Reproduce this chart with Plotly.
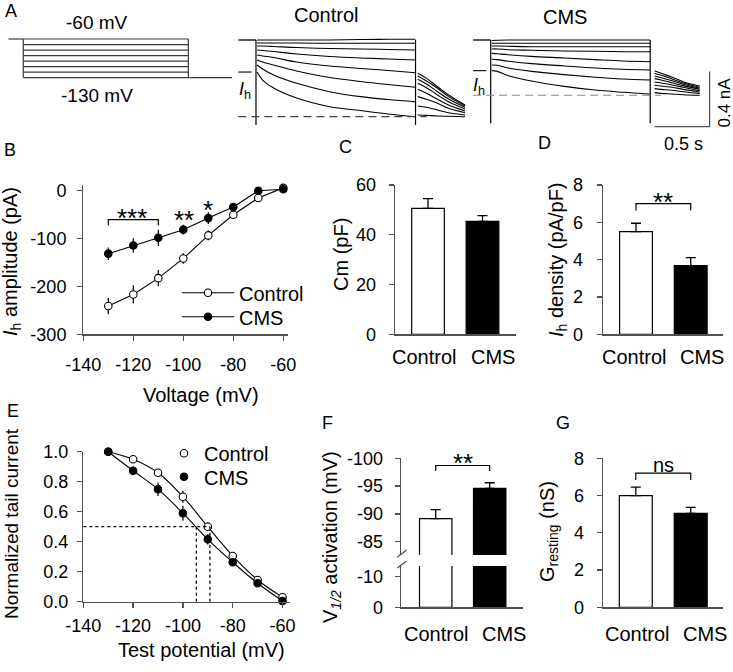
import plotly.graph_objects as go

W, H = 733, 672
FONT = "Arial, Liberation Sans, Helvetica, sans-serif"
AX = "#505050"


def px(x):
    return x / W


def py(y):
    return 1 - y / H


# ------------------------------------------------------------------ DATA
# Panel A - voltage protocol (mV) and times (s)
step_mv = [-60, -70, -80, -90, -100, -110, -120, -130]
hold_mv = -60
tail_mv = -130
prot_t = [-0.13, 0.0, 1.45, 1.85]

# Panel A - current traces (nA), one list per voltage step (-60 ... -130)
t_hold_start = -0.16
t_step = [0.01, 0.06, 0.16, 0.37, 0.67, 0.95, 1.2, 1.45]
ctrl_step = [
    [0.0, 0.0, 0.0, 0.0, 0.0, 0.004, 0.005, 0.005],
    [-0.022, -0.022, -0.022, -0.022, -0.024, -0.024, -0.024, -0.024],
    [-0.044, -0.044, -0.047, -0.055, -0.062, -0.065, -0.069, -0.073],
    [-0.073, -0.076, -0.084, -0.102, -0.120, -0.131, -0.138, -0.145],
    [-0.109, -0.116, -0.127, -0.160, -0.189, -0.207, -0.222, -0.238],
    [-0.145, -0.160, -0.182, -0.225, -0.273, -0.302, -0.324, -0.344],
    [-0.182, -0.211, -0.255, -0.315, -0.376, -0.412, -0.433, -0.449],
    [-0.233, -0.291, -0.349, -0.422, -0.485, -0.513, -0.538, -0.558],
]
t_tail_ctrl = [1.47, 1.55, 1.65, 1.75, 1.9]
ctrl_tail = [
    [-0.242, -0.279, -0.340, -0.400, -0.473],
    [-0.262, -0.298, -0.351, -0.412, -0.480],
    [-0.286, -0.320, -0.376, -0.429, -0.489],
    [-0.315, -0.347, -0.400, -0.449, -0.502],
    [-0.359, -0.388, -0.431, -0.473, -0.516],
    [-0.412, -0.431, -0.460, -0.497, -0.529],
    [-0.480, -0.489, -0.509, -0.529, -0.545],
    [-0.545, -0.548, -0.553, -0.555, -0.558],
]
ctrl_transient = -0.618

cms_step = [
    [-0.004, -0.002, 0.0, 0.0, 0.0, 0.0, 0.0, 0.0],
    [-0.024, -0.024, -0.024, -0.024, -0.024, -0.024, -0.024, -0.024],
    [-0.044, -0.044, -0.046, -0.049, -0.049, -0.049, -0.049, -0.049],
    [-0.065, -0.065, -0.071, -0.075, -0.080, -0.082, -0.085, -0.085],
    [-0.097, -0.100, -0.107, -0.119, -0.131, -0.143, -0.153, -0.158],
    [-0.140, -0.143, -0.155, -0.172, -0.189, -0.204, -0.213, -0.218],
    [-0.182, -0.184, -0.204, -0.228, -0.252, -0.271, -0.284, -0.291],
    [-0.223, -0.228, -0.260, -0.298, -0.337, -0.364, -0.380, -0.393],
]
t_tail_cms = [1.49, 1.55, 1.65, 1.75, 1.9]
cms_tail = [
    [-0.223, -0.242, -0.271, -0.303, -0.335],
    [-0.242, -0.257, -0.284, -0.313, -0.344],
    [-0.262, -0.274, -0.296, -0.322, -0.351],
    [-0.281, -0.291, -0.311, -0.332, -0.359],
    [-0.305, -0.313, -0.327, -0.344, -0.369],
    [-0.329, -0.335, -0.344, -0.359, -0.378],
    [-0.354, -0.359, -0.366, -0.376, -0.388],
    [-0.383, -0.388, -0.393, -0.398, -0.402],
]
cms_transient = -0.606
scale_t = 0.5    # s
scale_i = 0.4    # nA

# Panel B - Ih amplitude (pA)
b_v = [-130, -120, -110, -100, -90, -80, -70, -60]
b_ctrl = [-241, -217, -183, -142, -94, -51, -16, 5]
b_ctrl_err = [17, 19, 17, 11, 10, 5, 4, 3]
b_cms = [-132, -115, -99, -82, -58, -35, -1, 2]
b_cms_err = [13, 15, 17, 10, 12, 5, 4, 3]
b_ticks_x = [-140, -120, -100, -80, -60]
b_ticks_y = [-300, -200, -100, 0]

groups = ["Control", "CMS"]
# Panel C - Cm (pF)
cm_mean = [50.6, 45.4]
cm_err = [3.9, 2.3]
# Panel D - Ih density (pA/pF)
dens_mean = [5.5, 3.68]
dens_err = [0.45, 0.43]

# Panel E - normalized tail current
e_v = [-130, -120, -110, -100, -90, -80, -70, -60]
e_ctrl = [1.0, 0.95, 0.86, 0.70, 0.50, 0.305, 0.145, 0.03]
e_ctrl_err = [0.0, 0.015, 0.02, 0.04, 0.03, 0.02, 0.025, 0.01]
e_cms = [1.0, 0.873, 0.75, 0.59, 0.416, 0.263, 0.123, 0.005]
e_cms_err = [0.0, 0.03, 0.045, 0.05, 0.035, 0.02, 0.02, 0.01]
e_ticks_y = [0.0, 0.2, 0.4, 0.6, 0.8, 1.0]

# Panel F - V1/2 activation (mV)
vhalf_mean = [-89.15, -94.6]
vhalf_err = [1.6, 1.0]
f_ticks_upper = [-100, -95, -90, -85]
f_ticks_lower = [-10, 0]

# Panel G - G resting (nS)
g_mean = [6.0, 5.04]
g_err = [0.45, 0.33]
bar_ticks_8 = [0, 2, 4, 6, 8]

# ------------------------------------------------------------------ FIGURE
fig = go.Figure()
BLACK = "black"


def line(x, y, xa, ya, color=BLACK, width=1.1, dash=None, shape="linear"):
    fig.add_trace(go.Scatter(
        x=x, y=y, mode="lines", xaxis=xa, yaxis=ya, showlegend=False,
        hoverinfo="skip", cliponaxis=False,
        line=dict(color=color, width=width, dash=dash, shape=shape)))


# ---- Panel A: protocol
PC = "#3a3a3a"
line([prot_t[0], prot_t[1]], [hold_mv, hold_mv], "x", "y", PC, 1.2)
for v in step_mv:
    line([prot_t[1], prot_t[2]], [v, v], "x", "y", PC, 1.2)
for tt in (prot_t[1], prot_t[2]):
    line([tt, tt], [max(step_mv), min(step_mv)], "x", "y", PC, 1.2)
line([prot_t[2], prot_t[3]], [tail_mv, tail_mv], "x", "y", PC, 1.2)


def family(xa, ya, steps, tails, t_tail, transient, dash_color):
    line([t_hold_start, 0], [0, 0], xa, ya, BLACK, 1.3)
    line([0, 0], [0, transient], xa, ya, BLACK, 1.2)
    line([t_step[-1], t_step[-1]], [0, transient], xa, ya, BLACK, 1.2)
    for s in steps:
        line(t_step, s, xa, ya, BLACK, 1.1, shape="spline")
    for tl in tails:
        line(t_tail, tl, xa, ya, BLACK, 1.1, shape="spline")
    low = min(steps[-1] + tails[-1])
    line([t_hold_start, t_tail[1]], [low, low], xa, ya, dash_color, 1.2,
         dash="8px,5px")
    line([t_hold_start, -0.04], [steps[-1][0], steps[-1][0]], xa, ya,
         BLACK, 1.1)


family("x2", "y2", ctrl_step, ctrl_tail, t_tail_ctrl, ctrl_transient, "#444")
family("x3", "y3", cms_step, cms_tail, t_tail_cms, cms_transient, "#888")
# scale bar (CMS axes)
sb_t0, sb_i0 = 1.49, -0.63
line([sb_t0, sb_t0 + scale_t, sb_t0 + scale_t],
     [sb_i0, sb_i0, sb_i0 + scale_i], "x3", "y3", "#555", 1.3)

# ---- Panel B
for name, y, err, fill, lg in (("Control", b_ctrl, b_ctrl_err, "white",
                                "legend"),
                               ("CMS", b_cms, b_cms_err, "black", "legend3")):
    fig.add_trace(go.Scatter(
        x=b_v, y=y, name=name, mode="lines+markers", xaxis="x4", yaxis="y4",
        legend=lg, cliponaxis=False,
        line=dict(color=BLACK, width=1.1),
        marker=dict(size=7.5, color=fill, line=dict(color=BLACK, width=1.1)),
        error_y=dict(type="data", array=err, width=0, thickness=1.2,
                     color=BLACK)))
line([-130, -130, -110, -110], [-73, -61, -61, -73], "x4", "y4", BLACK, 1.2)


# ---- Bar panels helper
def bars(xa, ya, mean, err, up=True, with_err=True):
    e = dict(type="data", symmetric=False, color=BLACK, thickness=1.3,
             width=5)
    if up:
        e.update(array=err, arrayminus=[0] * len(err))
    else:
        e.update(array=[0] * len(err), arrayminus=err)
    fig.add_trace(go.Bar(
        x=groups, y=mean, xaxis=xa, yaxis=ya, width=0.6, showlegend=False,
        marker=dict(color=["white", "black"],
                    line=dict(color=BLACK, width=1.2)),
        error_y=e if with_err else None, hoverinfo="skip"))


bars("x5", "y5", cm_mean, cm_err)
bars("x6", "y6", dens_mean, dens_err)
line(["Control", "Control", "CMS", "CMS"], [6.63, 7.0, 7.0, 6.63],
     "x6", "y6", BLACK, 1.2)

# ---- Panel E
for y in (e_ctrl, e_cms):
    line(e_v, y, "x7", "y7", BLACK, 1.1, shape="spline")
for name, y, err, fill, lg in (("Control", e_ctrl, e_ctrl_err, "white",
                                "legend2"),
                               ("CMS", e_cms, e_cms_err, "black", "legend4")):
    fig.add_trace(go.Scatter(
        x=e_v, y=y, name=name, mode="markers", xaxis="x7", yaxis="y7",
        legend=lg, cliponaxis=False,
        marker=dict(size=7.5, color=fill, line=dict(color=BLACK, width=1.1)),
        error_y=dict(type="data", array=err, width=0, thickness=1.2,
                     color=BLACK)))
line([-140, max(vhalf_mean)], [0.5, 0.5], "x7", "y7", BLACK, 1.3, dash="dot")
for v in vhalf_mean:
    line([v, v], [0, 0.5], "x7", "y7", BLACK, 1.3, dash="dot")

# ---- Panel F (broken axis)
bars("x8", "y8", vhalf_mean, vhalf_err, up=False, with_err=False)
bars("x8", "y9", vhalf_mean, vhalf_err, up=False)
line(["Control", "Control", "CMS", "CMS"], [-97.7, -98.7, -98.7, -97.7],
     "x8", "y9", BLACK, 1.2)

# ---- Panel G
bars("x10", "y10", g_mean, g_err)
line(["Control", "Control", "CMS", "CMS"], [6.84, 7.2, 7.2, 6.84],
     "x10", "y10", BLACK, 1.2)

# ------------------------------------------------------------------ AXES
hidden = dict(visible=False, showgrid=False, zeroline=False, fixedrange=True,
              automargin=False)
TF = dict(size=18, color="black", family=FONT)
CF = dict(size=20, color="black", family=FONT)


def num_axis(domain, rng, ticks, anchor, standoff, text=None, **kw):
    d = dict(domain=domain, range=rng, anchor=anchor, showline=True,
             linecolor=AX, linewidth=1.3, ticks="outside", ticklen=5,
             tickwidth=1.3, tickcolor=AX, tickfont=TF, showgrid=False,
             zeroline=False, tickvals=ticks, automargin=False, tickangle=0,
             ticktext=text if text else [str(t) for t in ticks],
             ticklabelstandoff=standoff)
    d.update(kw)
    return d


def cat_axis(domain, rng, anchor):
    return dict(domain=domain, range=rng, anchor=anchor, type="category",
                showline=True, linecolor=AX, linewidth=1.3, ticks="",
                showticklabels=False, showgrid=False, zeroline=False,
                automargin=False)


def leg(x, y, width=30):
    return dict(x=px(x), y=py(y), xanchor="left", yanchor="middle",
                bgcolor="rgba(0,0,0,0)", font=CF, tracegroupgap=0,
                itemwidth=width, itemclick=False, itemdoubleclick=False,
                borderwidth=0)


layout = dict(
    template="none",
    width=W, height=H, margin=dict(l=0, r=0, t=0, b=0, pad=0),
    paper_bgcolor="white", plot_bgcolor="white",
    font=dict(family=FONT, color="black"),
    bargap=0.4,
    xaxis=dict(hidden, domain=[px(0), px(240)], range=[-0.2047, 1.904],
               anchor="y"),
    yaxis=dict(hidden, domain=[py(110), py(20)], range=[-188.4, -25.6],
               anchor="x"),
    xaxis2=dict(hidden, domain=[px(232), px(468)], range=[-0.218, 1.927],
                anchor="y2"),
    yaxis2=dict(hidden, domain=[py(150), py(30)], range=[-0.8, 0.0727],
                anchor="x2"),
    xaxis3=dict(hidden, domain=[px(465), px(733)], range=[-0.2336, 2.2027],
                anchor="y3"),
    yaxis3=dict(hidden, domain=[py(150), py(30)], range=[-0.8, 0.0727],
                anchor="x3"),
    xaxis4=num_axis([px(83.3), px(288.3)], [-140, -58], b_ticks_x, "y4", 9),
    yaxis4=num_axis([py(334.3), py(185)], [-300, 11], b_ticks_y, "x4", 7),
    xaxis5=cat_axis([px(395), px(516)], [-0.606, 1.615], "y5"),
    yaxis5=num_axis([py(334.3), py(185)], [0, 60], [0, 20, 40, 60], "x5", 9),
    xaxis6=cat_axis([px(603), px(723)], [-0.603, 1.59], "y6"),
    yaxis6=num_axis([py(334.3), py(185)], [0, 8], bar_ticks_8, "x6", 10),
    xaxis7=num_axis([px(83.3), px(290)], [-140, -57], b_ticks_x, "y7", 2),
    yaxis7=num_axis([py(601.7), py(451.7)], [0, 1], e_ticks_y, "x7", 5,
                    text=["%.1f" % t for t in e_ticks_y]),
    xaxis8=cat_axis([px(401), px(523)], [-0.643, 1.617], "y8"),
    yaxis8=num_axis([py(607.3), py(566)], [0, -13.5], f_ticks_lower, "x8", 8),
    yaxis9=num_axis([py(555), py(458.3)], [-82.6, -100], f_ticks_upper,
                    "x8", 8),
    xaxis10=cat_axis([px(603), px(723)], [-0.597, 1.588], "y10"),
    yaxis10=num_axis([py(607.3), py(458.3)], [0, 8], bar_ticks_8, "x10", 9),
    legend=leg(177, 292.7, 52),
    legend3=leg(177, 316.7, 52),
    legend2=leg(164, 453.3),
    legend4=leg(164, 476.7),
)

anns = []


def ann(text, x, y, size=20, angle=0, xref="paper", yref="paper",
        xanchor="center", yanchor="middle", xshift=0):
    if xref == "paper":
        x = px(x)
    if yref == "paper":
        y = py(y)
    anns.append(dict(text=text, x=x, y=y, xref=xref, yref=yref,
                     showarrow=False, textangle=angle, xanchor=xanchor,
                     yanchor=yanchor, xshift=xshift,
                     font=dict(size=size, family=FONT, color="black")))


# panel letters
for lab, x, y in (("A", 11, 11), ("B", 10, 150), ("C", 345, 147),
                  ("D", 544, 143), ("E", 13, 411), ("F", 327, 423),
                  ("G", 563, 423)):
    ann(lab, x, y, size=18)

# panel A texts
ann("-60 mV", 97, 23, size=19)
ann("-130 mV", 97, 95, size=19)
ann("Control", 326, 15, size=20)
ann("CMS", 565, 17, size=20)
ann("<i>I</i><sub>h</sub>", 245, 91, size=18)
ann("<i>I</i><sub>h</sub>", 479, 86, size=18)
ann("0.5 s", 683, 144, size=18)
ann("0.4 nA", 724, 102.5, size=17, angle=-90)

# axis titles
ann("<i>I</i><sub>h</sub> amplitude (pA)", 12, 262, angle=-90)
ann("Voltage (mV)", 201, 395)
ann("Cm (pF)", 341, 255, angle=-90)
ann("<i>I</i><sub>h</sub> density (pA/pF)", 557, 260, angle=-90)
ann("Normalized tail current", 11, 524, size=19, angle=-90)
ann("Test potential (mV)", 201, 650)
ann("V<sub><i>1/2</i></sub> activation (mV)", 331, 537, angle=-90)
ann("G<sub>resting</sub> (nS)", 548, 532, angle=-90)

# category labels under the bar panels
for xa, ylab, shifts in (("x5", 356.7, (-4, 11)), ("x6", 356.7, (-2, 11)),
                         ("x8", 634, (0, 14)), ("x10", 634, (1, 14))):
    for i, g in enumerate(groups):
        ann(g, i, ylab, xref=xa, xshift=shifts[i])

# significance marks
ann("***", -120.5, -57.7, size=26, xref="x4", yref="y4")
ann("**", -99.7, -61.5, size=26, xref="x4", yref="y4")
ann("*", -90.1, -40.6, size=26, xref="x4", yref="y4")
ann("**", 0.5, 7.1, size=26, xref="x6", yref="y6")
ann("**", 0.5, -99.1, size=26, xref="x8", yref="y9")
ann("ns", 0.5, 7.65, size=20, xref="x10", yref="y10")

layout["annotations"] = anns

# axis-break slashes for panel F
layout["shapes"] = [
    dict(type="line", xref="paper", yref="paper", x0=px(397.5), x1=px(406.5),
         y0=py(557), y1=py(550), line=dict(color=AX, width=1.3)),
    dict(type="line", xref="paper", yref="paper", x0=px(397.5), x1=px(406.5),
         y0=py(568), y1=py(561), line=dict(color=AX, width=1.3)),
]

fig.update_layout(**layout)
fig.write_html(
    "out.html",
    config={"displayModeBar": False, "staticPlot": True},
    post_script="document.body.style.margin='0';"
                "document.body.style.overflow='hidden';")
